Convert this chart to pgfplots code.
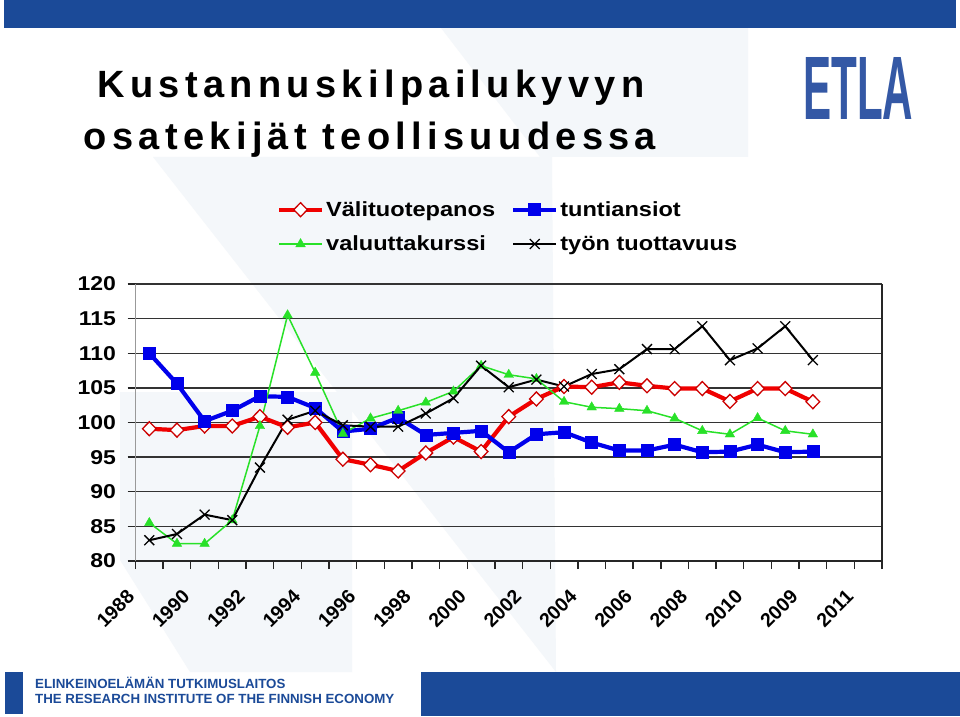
\documentclass[border=0pt]{standalone}
\usepackage{fontspec}
\usepackage{graphicx}
\usepackage{pgfplots}
\pgfplotsset{compat=1.18}
\setmainfont{Liberation Sans}
\newfontfamily\lsf[FakeStretch=1.15]{Liberation Sans}
\newfontfamily\titlefont[LetterSpace=14]{Liberation Sans}
\newfontfamily\plainf{Liberation Sans}
\definecolor{etlablue}{RGB}{27,74,152}
\definecolor{logoblue}{RGB}{52,88,165}
\definecolor{bglight}{RGB}{244,247,250}
\definecolor{cred}{RGB}{240,0,0}
\definecolor{cblue}{RGB}{0,0,235}
\definecolor{cgreen}{RGB}{40,225,40}

\begin{document}
\begin{tikzpicture}[x=1pt,y=1pt]
\path[use as bounding box, fill=white] (0,0) rectangle (960,716);
% faint background shapes (pixel coords converted: y' = 716 - y)
\fill[bglight] (441,688) -- (748,688) -- (748,559) -- (540,559) -- cycle;
\fill[bglight] (153,559) -- (552,559) -- (556,44) -- cycle;
\fill[bglight] (120,324) -- (352,324) -- (352,44) -- (190,44) -- (120,156) -- cycle;
% top bar
\fill[etlablue] (4,688) rectangle (956,716);
% title
\node[anchor=base, inner sep=0] at (371,618) {\titlefont\bfseries\fontsize{38}{44}\selectfont Kustannuskilpailukyvyn};
\node[anchor=base, inner sep=0] at (370,566) {\titlefont\bfseries\fontsize{38}{44}\selectfont osatekijät teollisuudessa};
% logo
\node[anchor=south west, inner sep=0, text=logoblue] at (803,596) {\resizebox{110pt}{62pt}{\plainf\bfseries ETLA}};
% bottom band
\fill[etlablue] (5,2) rectangle (23,44);
\fill[etlablue] (421,0) rectangle (960,44);
\node[anchor=base west, inner sep=0, text=etlablue] at (35,28) {\plainf\bfseries\fontsize{13.3}{15}\selectfont ELINKEINOELÄMÄN TUTKIMUSLAITOS};
\node[anchor=base west, inner sep=0, text=etlablue] at (35,12.5) {\plainf\bfseries\fontsize{13.3}{15}\selectfont THE RESEARCH INSTITUTE OF THE FINNISH ECONOMY};

\begin{axis}[
  at={(135.5pt,155pt)}, anchor=south west,
  scale only axis, width=746.5pt, height=277pt,
  xmin=-0.5, xmax=26.5, ymin=80, ymax=120,
  axis line style={draw=none},
  ytick={80,85,...,120},
  ymajorgrids,
  grid style={black!80, line width=1.4pt},
  ytick pos=left, xtick pos=bottom,
  tick align=outside,
  major tick length=8pt,
  every tick/.style={black!85, line width=1.4pt},
  xtick={-0.5,0.5,...,26.5},
  xticklabels={},
  extra x ticks={0,2,...,26},
  extra x tick labels={1988,1990,1992,1994,1996,1998,2000,2002,2004,2006,2008,2010,2009,2011},
  extra x tick style={major tick length=0pt, grid=none,
     xticklabel style={font=\plainf\bfseries\fontsize{19.5}{22}\selectfont, xshift=-16pt, yshift=-30pt, rotate=45, anchor=east}},
  yticklabel style={font=\lsf\bfseries\fontsize{20}{24}\selectfont, xshift=-8pt},
  /pgf/number format/assume math mode=true,
  legend columns=2,
  legend style={at={(0.1895,1.305)}, anchor=north west, draw=none, fill=none,
     inner sep=0pt, outer sep=0pt,
     font=\lsf\bfseries\fontsize{20.5}{24}\selectfont,
     /tikz/row sep=14pt,
     /tikz/every even column/.append style={column sep=14pt},
     cells={anchor=west}},
  legend image code/.code={\draw[mark repeat=2,mark phase=2,#1] plot coordinates {(0pt,0pt) (21.5pt,0pt) (43pt,0pt)};},
  clip=false,
]
\draw[black!85, line width=1.6pt] (rel axis cs:0,0) -- (rel axis cs:1,0) -- (rel axis cs:1,1);
\draw[black!40, line width=1pt] (rel axis cs:0,0) -- (rel axis cs:0,1);

\addplot[cred, line width=4.2pt, mark=diamond*, mark size=7pt,
  mark options={fill=white, draw=cred!85!black, line width=1.3pt, xscale=1.3}]
  coordinates {(0,99.1)(1,98.9)(2,99.5)(3,99.5)(4,100.85)(5,99.3)(6,100.0)(7,94.7)(8,93.9)(9,93.0)(10,95.6)(11,97.9)(12,95.8)(13,100.85)(14,103.4)(15,105.2)(16,105.1)(17,105.8)(18,105.3)(19,104.9)(20,104.9)(21,103.05)(22,104.9)(23,104.9)(24,103.0)};
\addlegendentry{Välituotepanos}

\addplot[cblue, line width=4.2pt, mark=square*, mark size=6pt,
  mark options={fill=cblue, draw=cblue, line width=0.5pt}]
  coordinates {(0,110.0)(1,105.6)(2,100.2)(3,101.7)(4,103.8)(5,103.7)(6,102.1)(7,98.7)(8,99.1)(9,100.7)(10,98.2)(11,98.5)(12,98.8)(13,95.7)(14,98.3)(15,98.6)(16,97.1)(17,95.95)(18,95.95)(19,96.8)(20,95.7)(21,95.8)(22,96.8)(23,95.7)(24,95.8)};
\addlegendentry{tuntiansiot}

\addplot[cgreen, line width=1.5pt, mark=triangle*, mark size=5.5pt,
  mark options={fill=cgreen, draw=cgreen, line width=0.4pt}]
  coordinates {(0,85.5)(1,82.5)(2,82.5)(3,85.9)(4,99.5)(5,115.5)(6,107.2)(7,98.4)(8,100.6)(9,101.7)(10,102.9)(11,104.5)(12,108.2)(13,106.9)(14,106.3)(15,103.0)(16,102.2)(17,102.0)(18,101.7)(19,100.6)(20,98.8)(21,98.3)(22,100.65)(23,98.8)(24,98.3)};
\addlegendentry{valuuttakurssi}

\addplot[black, line width=2pt, mark=x, mark size=7pt,
  mark options={line width=1.3pt}]
  coordinates {(0,83.0)(1,83.9)(2,86.7)(3,85.9)(4,93.5)(5,100.4)(6,101.7)(7,99.6)(8,99.4)(9,99.4)(10,101.3)(11,103.5)(12,108.2)(13,105.1)(14,106.2)(15,105.2)(16,107.0)(17,107.7)(18,110.6)(19,110.6)(20,113.9)(21,109.0)(22,110.7)(23,113.9)(24,109.0)};
\addlegendentry{työn tuottavuus}
\end{axis}
\end{tikzpicture}
\end{document}
